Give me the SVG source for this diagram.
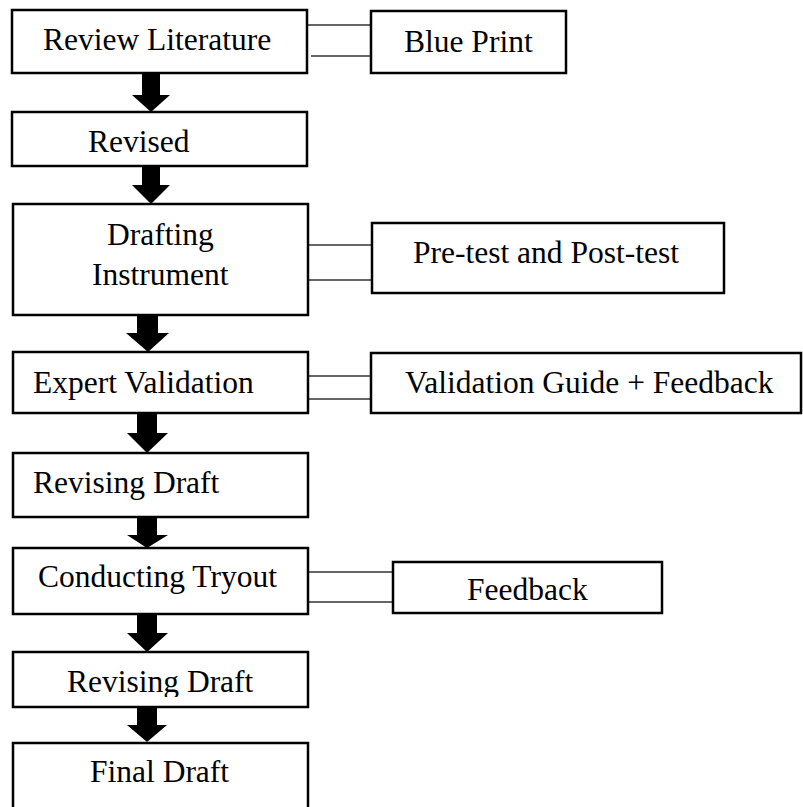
<svg xmlns="http://www.w3.org/2000/svg" width="803" height="807" viewBox="0 0 803 807">
  <style>
    .box { fill: #fff; stroke: #000; stroke-width: 2.5; }
    .lbl { font-family: "Liberation Serif", "Times New Roman", serif; font-size: 31.5px; fill: #000; }
    .link { stroke: #333; stroke-width: 1.3; fill: none; }
    .arrow { fill: #000; }
  </style>
  <defs>
    <clipPath id="clipRev2"><rect x="0" y="650" width="320" height="47"/></clipPath>
  </defs>
  <rect width="803" height="807" fill="#fff"/>

  <!-- connectors -->
  <g id="connectors">
    <!-- block arrows between steps -->
    <path class="arrow" d="M142,73 H160 V95 H170 L151,112 L132,95 H142 Z"/>
    <path class="arrow" d="M142,166 H160 V185 H170 L151,204 L132,185 H142 Z"/>
    <path class="arrow" d="M137,315 H158 V333 H169 L148,352 L126,333 H137 Z"/>
    <path class="arrow" d="M137,413 H157 V433 H168 L147,453 L127,433 H137 Z"/>
    <path class="arrow" d="M137,517 H157 V535 H168 L147,548 L127,535 H137 Z"/>
    <path class="arrow" d="M137,614 H157 V633 H168 L147,652 L127,633 H137 Z"/>
    <path class="arrow" d="M137,707 H157 V725 H167 L147,742 L127,725 H137 Z"/>
    <!-- double side links -->
    <line class="link" x1="307" y1="25" x2="371" y2="25"/>
    <line class="link" x1="311" y1="56" x2="371" y2="56"/>
    <line class="link" x1="308" y1="245" x2="372" y2="245"/>
    <line class="link" x1="308" y1="280" x2="372" y2="280"/>
    <line class="link" x1="308" y1="376" x2="371" y2="376"/>
    <line class="link" x1="308" y1="399" x2="371" y2="399"/>
    <line class="link" x1="308" y1="572" x2="393" y2="572"/>
    <line class="link" x1="308" y1="602" x2="393" y2="602"/>
  </g>

  <g id="review-literature">
    <rect class="box" x="12" y="10" width="295" height="63"/>
    <text class="lbl" x="43" y="50">Review Literature</text>
  </g>
  <g id="blue-print">
    <rect class="box" x="371" y="11" width="195" height="62"/>
    <text class="lbl" x="404" y="52">Blue Print</text>
  </g>
  <g id="revised">
    <rect class="box" x="12" y="112" width="295" height="54"/>
    <text class="lbl" x="88" y="152">Revised</text>
  </g>
  <g id="drafting-instrument">
    <rect class="box" x="13" y="204" width="295" height="111"/>
    <text class="lbl" x="107" y="245">Drafting</text>
    <text class="lbl" x="92" y="285">Instrument</text>
  </g>
  <g id="pre-post-test">
    <rect class="box" x="372" y="223" width="352" height="70"/>
    <text class="lbl" x="413" y="263">Pre-test and Post-test</text>
  </g>
  <g id="expert-validation">
    <rect class="box" x="13" y="352" width="295" height="61"/>
    <text class="lbl" x="33" y="393">Expert Validation</text>
  </g>
  <g id="validation-guide">
    <rect class="box" x="371" y="353" width="430" height="60"/>
    <text class="lbl" x="405" y="393">Validation Guide + Feedback</text>
  </g>
  <g id="revising-draft-1">
    <rect class="box" x="13" y="453" width="295" height="64"/>
    <text class="lbl" x="33" y="493">Revising Draft</text>
  </g>
  <g id="conducting-tryout">
    <rect class="box" x="13" y="548" width="295" height="66"/>
    <text class="lbl" x="38" y="587">Conducting Tryout</text>
  </g>
  <g id="feedback">
    <rect class="box" x="393" y="562" width="269" height="51"/>
    <text class="lbl" x="467" y="600">Feedback</text>
  </g>
  <g id="revising-draft-2">
    <rect class="box" x="13" y="652" width="295" height="55"/>
    <text class="lbl" x="67" y="692" clip-path="url(#clipRev2)">Revising Draft</text>
  </g>
  <g id="final-draft">
    <rect class="box" x="13" y="743" width="295" height="80"/>
    <text class="lbl" x="90" y="782">Final Draft</text>
  </g>
</svg>
